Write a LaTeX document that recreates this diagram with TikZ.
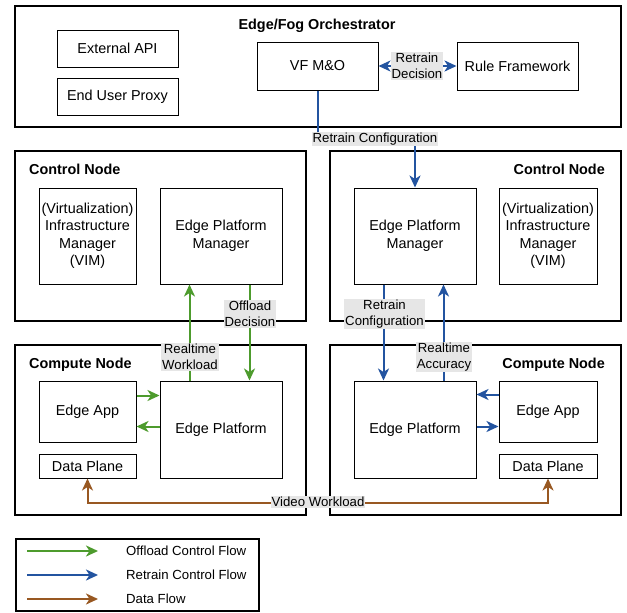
\documentclass[tikz,border=0pt]{standalone}
\usepackage{fontspec}
\setmainfont{Liberation Sans}
\usetikzlibrary{arrows.meta,calc}
\definecolor{ogreen}{RGB}{77,155,45}
\definecolor{rblue}{RGB}{35,84,160}
\definecolor{dbrown}{RGB}{152,88,34}
\definecolor{lblgray}{RGB}{230,230,230}
\newcommand\mainfs{\fontsize{14.4}{17.5}\selectfont}
\newcommand\lblfs{\fontsize{13.2}{15.5}\selectfont}
\newcommand\titlefs{\fontsize{14.4}{17.5}\selectfont\bfseries}
\begin{document}
\begin{tikzpicture}[x=1pt,y=-1pt,
  box/.style={draw, line width=1pt, inner sep=0pt, align=center, font=\mainfs},
  cont/.style={draw, line width=2pt, inner sep=0pt, anchor=north west},
  ttl/.style={font=\titlefs, inner sep=0pt},
  lbl/.style={fill=lblgray, inner sep=1pt, align=center, font=\lblfs},
  legtxt/.style={anchor=west, inner sep=0pt, font=\lblfs},
  flow/.style={line width=2pt, >={Stealth[length=12pt,width=11pt,inset=3.5pt]}}
]
\fill[white] (0,0) rectangle (627,613);
\useasboundingbox (0,0) rectangle (627,613);

% containers
\node[cont, minimum width=606pt, minimum height=121pt] (orch) at (14,5) {};
\node[cont, minimum width=291pt, minimum height=170pt] (ctlL) at (14,150) {};
\node[cont, minimum width=291pt, minimum height=170pt] (ctlR) at (329,150) {};
\node[cont, minimum width=291pt, minimum height=170pt] (cmpL) at (14,344) {};
\node[cont, minimum width=291pt, minimum height=170pt] (cmpR) at (329,344) {};

% titles
\node[ttl, anchor=base] (orchT) at (317,30) {Edge/Fog Orchestrator};
\node[ttl, anchor=base west] (ctlLT) at (29,174) {Control Node};
\node[ttl, anchor=base east] (ctlRT) at (605,174) {Control Node};
\node[ttl, anchor=base west] (cmpLT) at (29,368) {Compute Node};
\node[ttl, anchor=base east] (cmpRT) at (605,368) {Compute Node};

% orchestrator boxes
\node[box, minimum width=121pt, minimum height=37pt] (extapi) at (117.5,48.5) {External API};
\node[box, minimum width=121pt, minimum height=37pt] (eup) at (117.5,96.5) {End User Proxy};
\node[box, minimum width=121pt, minimum height=48pt] (vf) at (317.5,66) {VF M\&O};
\node[box, minimum width=121pt, minimum height=48pt] (rule) at (517.5,66) {Rule Framework};

% control node boxes
\node[box, minimum width=97pt, minimum height=96pt] (vimL) at (87.5,236) {(Virtualization)\\Infrastructure\\Manager\\(VIM)};
\node[box, minimum width=122pt, minimum height=96pt] (epmL) at (221,236) {Edge Platform\\Manager};
\node[box, minimum width=122pt, minimum height=96pt] (epmR) at (415,236) {Edge Platform\\Manager};
\node[box, minimum width=98pt, minimum height=96pt] (vimR) at (548,236) {(Virtualization)\\Infrastructure\\Manager\\(VIM)};

% compute node boxes
\node[box, minimum width=97pt, minimum height=61pt] (appL) at (87.5,411.5) {Edge App};
\node[box, minimum width=97pt, minimum height=24pt] (dpL) at (87.5,466) {Data Plane};
\node[box, minimum width=122pt, minimum height=97pt] (epL) at (221,429.5) {Edge Platform};
\node[box, minimum width=122pt, minimum height=97pt] (epR) at (415,429.5) {Edge Platform};
\node[box, minimum width=98pt, minimum height=61pt] (appR) at (548,411.5) {Edge App};
\node[box, minimum width=98pt, minimum height=24pt] (dpR) at (548,466) {Data Plane};

% connectors
\draw[flow, rblue, <->] (vf) -- (rule);
\draw[flow, rblue, ->] (vf.south) -- ++(0,49) -| (epmR.north);

\draw[flow, ogreen, ->] ($(epL.north west)+(30,0)$) -- ($(epmL.south west)+(30,0)$);
\draw[flow, ogreen, ->] ($(epmL.south west)+(90,0)$) -- ($(epL.north west)+(90,0)$);
\draw[flow, ogreen, ->] ($(appL.north east)+(0,15)$) -- ($(epL.north west)+(0,15)$);
\draw[flow, ogreen, ->] ($(epL.north west)+(0,46)$) -- ($(appL.north east)+(0,46)$);

\draw[flow, rblue, ->] ($(epmR.south west)+(30,0)$) -- ($(epR.north west)+(30,0)$);
\draw[flow, rblue, ->] ($(epR.north west)+(90,0)$) -- ($(epmR.south west)+(90,0)$);
\draw[flow, rblue, ->] ($(appR.north west)+(0,14)$) -- ($(epR.north east)+(0,14)$);
\draw[flow, rblue, ->] ($(epR.north east)+(0,46)$) -- ($(appR.north west)+(0,46)$);

\draw[flow, dbrown, <->] (dpL.south) -- ++(0,24) -| (dpR.south);

% labels
\node[lbl] (rdlbl) at (417,66) {Retrain\\Decision};
\node[lbl] (rclbl) at (375,139) {Retrain Configuration};
\node[lbl] (rwlbl) at (190,357) {Realtime\\Workload};
\node[lbl] (odlbl) at (250,314) {Offload\\Decision};
\node[lbl] (rc2lbl) at (384.5,314) {Retrain\\Configuration};
\node[lbl] (ralbl) at (444,357) {Realtime\\Accuracy};
\node[lbl] (vwlbl) at (318,502) {Video Workload};

% legend
\node[cont, minimum width=243pt, minimum height=72pt] (leg) at (15,538) {};
\coordinate (l1a) at (27,551); \coordinate (l1b) at (98,551);
\coordinate (l2a) at (27,575); \coordinate (l2b) at (98,575);
\coordinate (l3a) at (27,599); \coordinate (l3b) at (98,599);
\draw[flow, ogreen, ->] (l1a) -- (l1b);
\draw[flow, rblue, ->] (l2a) -- (l2b);
\draw[flow, dbrown, ->] (l3a) -- (l3b);
\node[legtxt] (lt1) at (126,551) {Offload Control Flow};
\node[legtxt] (lt2) at (126,575) {Retrain Control Flow};
\node[legtxt] (lt3) at (126,599) {Data Flow};
\end{tikzpicture}
\end{document}
